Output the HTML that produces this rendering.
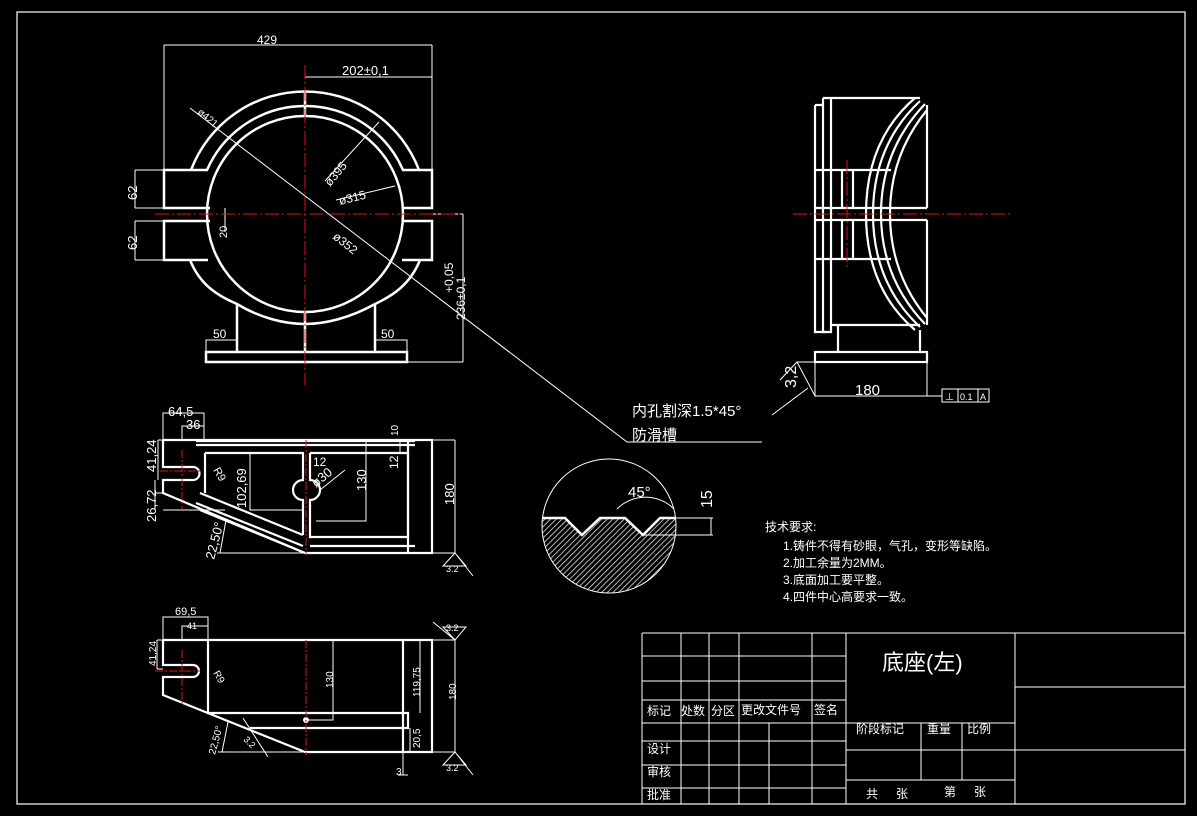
<!DOCTYPE html>
<html><head><meta charset="utf-8"><style>
html,body{margin:0;padding:0;background:#000;}
svg{display:block;}
text{font-family:"Liberation Sans","Noto Sans CJK SC",sans-serif;fill:#fff;}
</style></head><body>
<svg width="1197" height="816" viewBox="0 0 1197 816" xmlns="http://www.w3.org/2000/svg">
<rect x="0" y="0" width="1197" height="816" fill="#000"/>
<rect x="17" y="12" width="1168" height="792" fill="none" stroke="#fff" stroke-width="1.2"/>

<!-- ============ FRONT VIEW ============ -->
<g fill="none" stroke="#fff" stroke-width="2.5">
  <path d="M191 170 A122 122 0 0 1 419 170"/>
  <path d="M207 170 A107 107 0 0 1 403 170"/>
  <circle cx="305" cy="214" r="98"/>
  <path d="M190 260 C200 285 218 296 237 304"/>
  <path d="M420 260 C410 285 392 296 375 304"/>
  <path d="M237 304 C260 318 285 324 305 324 C325 324 350 318 375 304"/>
  <path d="M208 170 H164 V208 H210"/>
  <path d="M210 221 H164 V260 H208"/>
  <path d="M402 170 H432 V208 H402"/>
  <path d="M402 221 H432 V260 H402"/>
  <path d="M237 304 V352 M375 304 V352"/>
  <rect x="206" y="352" width="201" height="10"/>
  <path d="M305 92 V116 M305 312 V352"/>
</g>
<g fill="none" stroke="#fff" stroke-width="1">
  <path d="M164 170 V45 M432 170 V45 M164 45 H432"/>
  <path d="M305 77 H432"/>
  <path d="M164 170 H135 M164 208 H135 M135 170 V208 M164 221 H135 M164 260 H135 M135 221 V260"/>
  <path d="M225 208 V232"/>
  <path d="M432 214 H463 M407 362 H463 M463 214 V362"/>
  <path d="M206 352 V340 H237 M375 340 H407 V352"/>
  <path d="M190 108 L627 442 H762"/>
  <path d="M325 181 L379 122"/>
  <path d="M336 200 L395 186"/>
  <path d="M772 415 L808 388"/>
</g>
<g stroke="#e0101a" stroke-width="1" stroke-dasharray="14 3 2 3">
  <path d="M155 214 H460"/>
  <path d="M305 65 V385"/>
</g>
<g font-size="13">
  <text x="257" y="44" font-size="12">429</text>
  <text x="342" y="75">202±0,1</text>
  <text x="137" y="200" transform="rotate(-90 137 200)">62</text>
  <text x="137" y="250" transform="rotate(-90 137 250)">62</text>
  <text x="227" y="238" transform="rotate(-90 227 238)" font-size="11">20</text>
  <text x="197" y="113" font-size="10" transform="rotate(40 197 113)">ø421</text>
  <text x="330" y="187" font-size="12" transform="rotate(-50 330 187)">ø395</text>
  <text x="340" y="205" font-size="12" transform="rotate(-14 340 205)">ø315</text>
  <text x="332" y="238" font-size="12" transform="rotate(38 332 238)">ø352</text>
  <text x="453" y="293" font-size="12" transform="rotate(-90 453 293)">+0,05</text>
  <text x="465" y="320" font-size="12" transform="rotate(-90 465 320)">236±0,1</text>
  <text x="213" y="338" font-size="12">50</text>
  <text x="381" y="338" font-size="12">50</text>
</g>

<!-- ============ SIDE VIEW ============ -->
<g fill="none" stroke="#fff" stroke-width="2.2">
  <path d="M823 98 H920 M815 105 H823 M815 105 V332 H826"/>
  <path d="M823 98 V332 H831 V98"/>
  <path d="M815 170 H891 M815 208 H927 M815 220 H927 M815 259 H891"/>
  <path d="M842 170 V208 M853 170 V208 M842 220 V259 M853 220 V259"/>
  <path d="M927 105 V208 M927 220 V325"/>
  <path d="M915 98 Q866 140 866 214 Q866 288 915 330"/>
  <path d="M920 101 Q873 145 873 214 Q873 283 920 327"/>
  <path d="M925 104 Q881 150 881 214 Q881 278 925 324"/>
  <path d="M927 110 Q890 155 890 214 Q890 273 927 318"/>
  <path d="M831 325 H920 M838 325 V352 M920 330 V352"/>
  <rect x="815" y="352" width="112" height="10"/>
</g>
<g fill="none" stroke="#fff" stroke-width="1">
  <path d="M815 362 V396 H927 V362 M927 396 H942"/>
  <rect x="942" y="389" width="47" height="13"/>
  <path d="M958 389 V402 M978 389 V402"/>
  <path d="M815 396 L797 362 H815 M797 362 L780 380"/>
</g>
<g stroke="#e0101a" stroke-width="1" stroke-dasharray="14 3 2 3">
  <path d="M793 214 H1010"/>
  <path d="M847 160 V270"/>
</g>
<text x="855" y="395" font-size="15">180</text>
<text x="796" y="388" font-size="16" transform="rotate(-90 796 388)">3,2</text>
<text x="945" y="400" font-size="9">⊥</text>
<text x="960" y="400" font-size="9">0.1</text>
<text x="980" y="400" font-size="9">A</text>

<text x="632" y="416" font-size="15">内孔割深1.5*45°</text>
<text x="632" y="440" font-size="15">防滑槽</text>

<!-- ============ DETAIL CIRCLE ============ -->
<defs>
  <pattern id="h" width="4" height="4" patternUnits="userSpaceOnUse" patternTransform="rotate(45)">
    <rect width="4" height="4" fill="#000"/><line x1="0" y1="0" x2="0" y2="4" stroke="#fff" stroke-width="1.4"/>
  </pattern>
  <clipPath id="cc"><circle cx="609" cy="526" r="67"/></clipPath>
</defs>
<path clip-path="url(#cc)" d="M540 518 H565 L582 535 L600 518 H625 L643 535 L660 518 H680 V600 H540 Z" fill="url(#h)"/>
<circle cx="609" cy="526" r="67" fill="none" stroke="#fff" stroke-width="1"/>
<path d="M542 518 H565 L582 535 L600 518 H625 L643 535 L660 518 H676" fill="none" stroke="#fff" stroke-width="2.5"/>
<path d="M617 509 A40 40 0 0 1 674 509" fill="none" stroke="#fff" stroke-width="1"/>
<path d="M660 518 H713 M643 535 H713 M711 518 V535" fill="none" stroke="#fff" stroke-width="1"/>
<text x="628" y="497" font-size="15">45°</text>
<text x="712" y="508" font-size="16" transform="rotate(-90 712 508)">15</text>

<g font-size="12">
  <text x="765" y="531">技术要求:</text>
  <text x="783" y="550">1.铸件不得有砂眼，气孔，变形等缺陷。</text>
  <text x="783" y="567">2.加工余量为2MM。</text>
  <text x="783" y="584">3.底面加工要平整。</text>
  <text x="783" y="601">4.四件中心高要求一致。</text>
</g>

<!-- ============ SECTION 1 ============ -->
<g fill="none" stroke="#fff" stroke-width="2.2">
  <path d="M163 440 H432 V553 H305 L163 493 V480 H193 A6.5 6.5 0 0 0 193 467 H163 V440"/>
  <path d="M196 445 H415 M196 441 H415"/>
  <path d="M205 453 V493 M205 453 H303 V480 A10 10 0 0 0 303 500 V535 M303 535 L200 493"/>
  <path d="M310 453 H408 V537 H310 V500 A10 10 0 0 0 310 480 V453"/>
  <path d="M196 503 L303 546 M200 510 L305 553"/>
  <path d="M310 546 H415 M408 440 V553"/>
</g>
<g fill="none" stroke="#fff" stroke-width="1">
  <path d="M163 440 V413 H204 V440 M182 440 V426 H204"/>
  <path d="M163 440 H158 M158 440 V480 M163 493 H155 M155 480 V510 M163 510 H225"/>
  <path d="M250 453 V510 H303"/>
  <path d="M366 441 V521 H316"/>
  <path d="M432 440 H455 M455 440 V553 M432 553 H455"/>
  <path d="M217 553 H303 M220 553 L226 520"/>
  <path d="M400 440 V453"/>
  <path d="M320 490 L345 470"/>
</g>
<g stroke="#e0101a" stroke-width="1" stroke-dasharray="8 2 2 2">
  <path d="M160 471 H200 M182 450 V510 M306 440 V555"/>
</g>
<g font-size="13">
  <text x="168" y="416">64,5</text>
  <text x="186" y="429">36</text>
  <text x="156" y="472" transform="rotate(-90 156 472)">41,24</text>
  <text x="156" y="522" transform="rotate(-90 156 522)">26,72</text>
  <text x="213" y="470" font-size="11" transform="rotate(60 213 470)">R9</text>
  <text x="246" y="508" transform="rotate(-90 246 508)">102,69</text>
  <text x="214" y="560" transform="rotate(-75 214 560)">22,50°</text>
  <text x="313" y="466" font-size="12">12</text>
  <text x="316" y="488" transform="rotate(-40 316 488)">ø30</text>
  <text x="366" y="491" transform="rotate(-90 366 491)">130</text>
  <text x="398" y="469" font-size="12" transform="rotate(-90 398 469)">12</text>
  <text x="398" y="436" font-size="10" transform="rotate(-90 398 436)">10</text>
  <text x="454" y="505" transform="rotate(-90 454 505)">180</text>
</g>
<path d="M455 553 L443 566 H466 Z M455 553 L473 576" fill="none" stroke="#fff" stroke-width="1"/>
<text x="446" y="572" font-size="9">3.2</text>

<!-- ============ SECTION 2 ============ -->
<g fill="none" stroke="#fff" stroke-width="2.2">
  <path d="M163 640 H432 V752 H305 L163 695 V677 H193 A6 6 0 0 0 193 665 H163 V640"/>
  <path d="M208 640 V713 H408 V728 H250 M403 640 V752"/>
</g>
<g fill="none" stroke="#fff" stroke-width="1">
  <path d="M163 640 V617 H208 V640 M182 640 V626 H208"/>
  <path d="M163 640 H157 M157 640 V669 M157 669 H163"/>
  <path d="M333 640 V720 H308"/>
  <path d="M420 640 V713 M420 752 H403 M410 728 V752 H420"/>
  <path d="M432 640 H455 M455 640 V752 M432 752 H455"/>
  <path d="M218 752 H303 M222 752 L228 722"/>
  <path d="M403 752 V775 M398 775 H408"/>
  <path d="M243 718 L268 757"/>
  <path d="M455 640 L443 627 H466 Z M455 640 L433 622"/>
</g>
<circle cx="306" cy="720" r="3" fill="#fff"/>
<g stroke="#e0101a" stroke-width="1" stroke-dasharray="8 2 2 2">
  <path d="M155 671 H200 M182 650 V705 M306 640 V755"/>
</g>
<g font-size="11">
  <text x="175" y="615">69,5</text>
  <text x="187" y="629" font-size="9">41</text>
  <text x="156" y="666" font-size="10" transform="rotate(-90 156 666)">41,24</text>
  <text x="213" y="673" font-size="10" transform="rotate(60 213 673)">R9</text>
  <text x="333" y="688" font-size="10" transform="rotate(-90 333 688)">130</text>
  <text x="420" y="697" font-size="10" transform="rotate(-90 420 697)">119,75</text>
  <text x="420" y="748" font-size="10" transform="rotate(-90 420 748)">20,5</text>
  <text x="456" y="700" font-size="10" transform="rotate(-90 456 700)">180</text>
  <text x="215" y="755" font-size="10" transform="rotate(-75 215 755)">22,50°</text>
  <text x="243" y="740" font-size="9" transform="rotate(45 243 740)">3.2</text>
  <text x="396" y="775" font-size="10">3</text>
  <text x="446" y="631" font-size="9">3.2</text>
</g>
<path d="M455 752 L443 765 H466 Z M455 752 L473 775" fill="none" stroke="#fff" stroke-width="1"/>
<text x="446" y="771" font-size="9">3.2</text>

<!-- ============ TITLE BLOCK ============ -->
<g fill="none" stroke="#fff" stroke-width="1">
  <path d="M642 633 H1185 M642 633 V804"/>
  <path d="M642 656 H846 M642 681 H846 M642 700 H846 M642 723 H1015 M642 741 H846 M642 765 H846 M642 788 H846"/>
  <path d="M681 633 V804 M709 633 V804 M739 633 V804 M769 723 V804 M812 633 V804 M846 633 V804"/>
  <path d="M846 750 H1015 M846 780 H1015 M921 723 V780 M962 723 V780"/>
  <path d="M1015 633 V804 M1015 687 H1185 M1015 750 H1185"/>
</g>
<text x="882" y="670" font-size="22">底座(左)</text>
<g font-size="12">
  <text x="647" y="715">标记</text>
  <text x="681" y="715">处数</text>
  <text x="711" y="715">分区</text>
  <text x="741" y="714">更改文件号</text>
  <text x="814" y="714">签名</text>
  <text x="647" y="753">设计</text>
  <text x="647" y="776">审核</text>
  <text x="647" y="799">批准</text>
  <text x="856" y="733">阶段标记</text>
  <text x="927" y="733">重量</text>
  <text x="967" y="733">比例</text>
  <text x="866" y="798">共</text>
  <text x="896" y="798">张</text>
  <text x="944" y="796">第</text>
  <text x="974" y="796">张</text>
</g>
</svg>
</body></html>
